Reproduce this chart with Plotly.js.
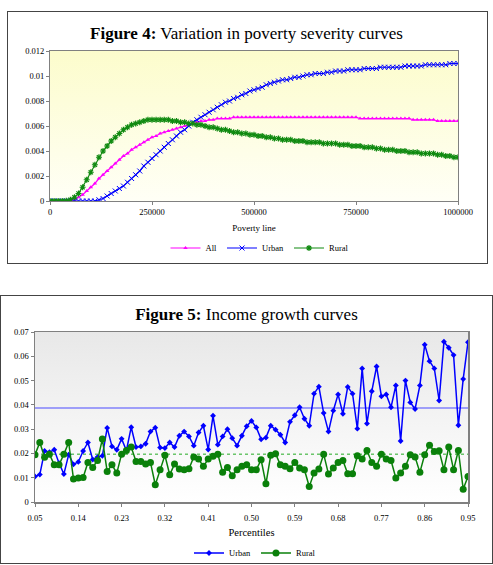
<!DOCTYPE html>
<html>
<head>
<meta charset="utf-8">
<script src="https://cdn.plot.ly/plotly-3.0.1.min.js"></script>
<style>
  html, body { margin:0; padding:0; background:#fff; width:493px; height:565px; overflow:hidden; }
  #f4, #f5 { position:absolute; left:0; width:493px; }
  #f4 { top:0; height:275px; }
  #f5 { top:275px; height:290px; }
  .frame { position:absolute; border:1px solid #444; pointer-events:none; }
</style>
</head>
<body>
<div id="f4"></div>
<div id="f5"></div>
<div class="frame" style="left:7px; top:11px; width:479px; height:251px;"></div>
<div class="frame" style="left:0px; top:295px; width:491px; height:267px;"></div>
<script>
// ---------- Figure 4 data ----------
const povertyLine = [0,10000,20000,30000,40000,50000,60000,70000,80000,90000,
  100000,110000,120000,130000,140000,150000,160000,170000,180000,190000,
  200000,210000,220000,230000,240000,250000,260000,270000,280000,290000,
  300000,310000,320000,330000,340000,350000,360000,370000,380000,390000,
  400000,410000,420000,430000,440000,450000,460000,470000,480000,490000,
  500000,510000,520000,530000,540000,550000,560000,570000,580000,590000,
  600000,610000,620000,630000,640000,650000,660000,670000,680000,690000,
  700000,710000,720000,730000,740000,750000,760000,770000,780000,790000,
  800000,810000,820000,830000,840000,850000,860000,870000,880000,890000,
  900000,910000,920000,930000,940000,950000,960000,970000,980000,990000,1000000];

const severityAll = [0,0,0,0,0,0.00003,0.0001,0.0003,0.0005,0.0008,
  0.0011,0.0014,0.0018,0.0021,0.0024,0.0027,0.0030,0.0033,0.0036,0.0038,
  0.0041,0.0043,0.0045,0.0047,0.0049,0.0051,0.0052,0.0054,0.0055,0.0056,
  0.0057,0.0058,0.0059,0.0060,0.0061,0.0062,0.0063,0.0064,0.0064,0.0065,
  0.0065,0.0066,0.0066,0.0066,0.0066,0.0067,0.0067,0.0067,0.0067,0.0067,
  0.0067,0.0067,0.0067,0.0067,0.0067,0.0067,0.0067,0.0067,0.0067,0.0067,
  0.0067,0.0067,0.0067,0.0067,0.0067,0.0067,0.0067,0.0067,0.0067,0.0067,
  0.0067,0.0067,0.0067,0.0067,0.0067,0.0067,0.0066,0.0066,0.0066,0.0066,
  0.0066,0.0066,0.0066,0.0066,0.0066,0.0066,0.0066,0.0066,0.0066,0.0065,
  0.0065,0.0065,0.0065,0.0065,0.0065,0.0064,0.0064,0.0064,0.0064,0.0064,0.0064];

const severityUrban = [0,0,0,0,0,0,0,0,0,0,
  0,0,0.0001,0.0002,0.0004,0.0006,0.0008,0.0010,0.0012,0.0015,
  0.0018,0.0021,0.0024,0.0028,0.0031,0.0034,0.0037,0.0040,0.0043,0.0046,
  0.0049,0.0052,0.0055,0.0057,0.0060,0.0063,0.0065,0.0067,0.0069,0.0071,
  0.0073,0.0075,0.0077,0.0079,0.0080,0.0082,0.0083,0.0085,0.0086,0.0088,
  0.0089,0.0090,0.0091,0.0093,0.0094,0.0095,0.0096,0.0097,0.0097,0.0098,
  0.0099,0.0099,0.0100,0.0101,0.0101,0.0102,0.0102,0.0102,0.0103,0.0103,
  0.0104,0.0104,0.0104,0.0105,0.0105,0.0105,0.0105,0.0106,0.0106,0.0106,
  0.0106,0.0107,0.0107,0.0107,0.0107,0.0107,0.0107,0.0108,0.0108,0.0108,
  0.0108,0.0108,0.0109,0.0109,0.0109,0.0109,0.0109,0.0109,0.0110,0.0110,0.0110];

const severityRural = [0,0,0,0,0.00002,0.0001,0.0003,0.0006,0.0011,0.0017,
  0.0023,0.0029,0.0035,0.0040,0.0044,0.0048,0.0051,0.0054,0.0057,0.0059,
  0.0061,0.0062,0.0063,0.0064,0.0065,0.0065,0.0065,0.0065,0.0065,0.0065,
  0.0064,0.0064,0.0063,0.0063,0.0062,0.0062,0.0061,0.0061,0.0060,0.0059,
  0.0059,0.0058,0.0057,0.0057,0.0056,0.0055,0.0055,0.0054,0.0054,0.0053,
  0.0053,0.0052,0.0052,0.0051,0.0051,0.0050,0.0050,0.0049,0.0049,0.0049,
  0.0048,0.0048,0.0048,0.0047,0.0047,0.0047,0.0047,0.0046,0.0046,0.0046,
  0.0046,0.0045,0.0045,0.0045,0.0044,0.0044,0.0044,0.0043,0.0043,0.0043,
  0.0042,0.0042,0.0041,0.0041,0.0041,0.0040,0.0040,0.0040,0.0039,0.0039,
  0.0039,0.0038,0.0038,0.0038,0.0038,0.0037,0.0037,0.0036,0.0036,0.0035,0.0035];

const fig4XTicks = [0, 250000, 500000, 750000, 1000000];
const fig4XTickText = ['0', '250000', '500000', '750000', '1000000'];

// ---------- Figure 5 data ----------
const percentiles = [0.05,0.06,0.07,0.08,0.09,0.10,0.11,0.12,0.13,0.14,
  0.15,0.16,0.17,0.18,0.19,0.20,0.21,0.22,0.23,0.24,
  0.25,0.26,0.27,0.28,0.29,0.30,0.31,0.32,0.33,0.34,
  0.35,0.36,0.37,0.38,0.39,0.40,0.41,0.42,0.43,0.44,
  0.45,0.46,0.47,0.48,0.49,0.50,0.51,0.52,0.53,0.54,
  0.55,0.56,0.57,0.58,0.59,0.60,0.61,0.62,0.63,0.64,
  0.65,0.66,0.67,0.68,0.69,0.70,0.71,0.72,0.73,0.74,
  0.75,0.76,0.77,0.78,0.79,0.80,0.81,0.82,0.83,0.84,
  0.85,0.86,0.87,0.88,0.89,0.90,0.91,0.92,0.93,0.94,0.95];

const growthUrban = [0.0105,0.0113,0.021,0.0205,0.0215,0.016,0.0115,0.0195,0.0155,0.0165,
  0.021,0.0245,0.0175,0.0185,0.019,0.0305,0.0229,0.0215,0.026,0.0212,
  0.0308,0.0226,0.0229,0.024,0.029,0.0306,0.0224,0.0222,0.0245,0.0226,
  0.0273,0.029,0.027,0.0232,0.0286,0.0314,0.0216,0.0355,0.0236,0.027,
  0.030,0.0263,0.0232,0.0273,0.0312,0.0334,0.0307,0.0258,0.0265,0.0314,
  0.0298,0.0277,0.0245,0.033,0.0357,0.039,0.0343,0.0314,0.0446,0.0475,
  0.0366,0.029,0.0376,0.0443,0.0363,0.0474,0.0446,0.0302,0.055,0.0323,
  0.0456,0.0558,0.0435,0.0443,0.039,0.048,0.0251,0.05,0.041,0.0383,
  0.048,0.0648,0.058,0.055,0.0418,0.066,0.0635,0.0605,0.0316,0.0506,0.0658];

const growthRural = [0.0195,0.0245,0.0184,0.0197,0.0153,0.0153,0.0197,0.0245,0.0095,0.0099,
  0.0101,0.0163,0.0142,0.0171,0.0259,0.0126,0.0153,0.0119,0.0197,0.0212,
  0.0226,0.0167,0.0167,0.0156,0.0163,0.0071,0.0133,0.0192,0.0112,0.0156,
  0.0136,0.0133,0.0137,0.0185,0.0177,0.0147,0.0177,0.0188,0.0197,0.0123,
  0.0142,0.0108,0.0133,0.0147,0.0153,0.0133,0.0133,0.0174,0.0075,0.0192,
  0.0199,0.0153,0.0147,0.0137,0.0163,0.014,0.0133,0.0064,0.0119,0.0136,
  0.0197,0.0115,0.014,0.0163,0.0171,0.0116,0.0116,0.019,0.0177,0.0212,
  0.0163,0.0147,0.0197,0.0177,0.0171,0.0099,0.0119,0.0147,0.0195,0.0185,
  0.0122,0.0195,0.0234,0.0208,0.0211,0.0133,0.0226,0.0133,0.0212,0.0053,0.0105];

const urbanMean = 0.0387;
const ruralMean = 0.0197;
const fig5XTicks = [0.05,0.14,0.23,0.32,0.41,0.50,0.59,0.68,0.77,0.86,0.95];
const fig5XTickText = ['0.05','0.14','0.23','0.32','0.41','0.50','0.59','0.68','0.77','0.86','0.95'];

// ---------- helpers ----------
const SERIF = '"Liberation Serif", "Times New Roman", serif';
function gradient(top, bottom) {
  const svg = "<svg xmlns='http://www.w3.org/2000/svg' width='10' height='10' preserveAspectRatio='none'>" +
    "<defs><linearGradient id='g' x1='0' y1='0' x2='0' y2='1'>" +
    "<stop offset='0' stop-color='" + top + "'/><stop offset='1' stop-color='" + bottom + "'/>" +
    "</linearGradient></defs><rect width='10' height='10' fill='url(#g)'/></svg>";
  return 'data:image/svg+xml;charset=utf-8,' + encodeURIComponent(svg);
}

// ---------- Figure 4 ----------
const f4Traces = [
  { x: povertyLine, y: severityAll, name: 'All', type: 'scatter', mode: 'lines+markers',
    line: { color: '#ff00ff', width: 1.2 },
    marker: { symbol: 'triangle-up', size: 4, color: '#ff00ff' } },
  { x: povertyLine, y: severityUrban, name: 'Urban', type: 'scatter', mode: 'lines+markers',
    line: { color: '#0000ff', width: 1.2 },
    marker: { symbol: 'x-thin', size: 5, color: '#0000ff', line: { color: '#0000ff', width: 1 } } },
  { x: povertyLine, y: severityRural, name: 'Rural', type: 'scatter', mode: 'lines+markers',
    line: { color: '#108a10', width: 1.2 },
    marker: { symbol: 'asterisk', size: 5, color: '#108a10', line: { color: '#108a10', width: 1.2 } } }
];
const f4Layout = {
  width: 493, height: 275,
  margin: { l: 50, r: 35, t: 51, b: 74, pad: 0 },
  paper_bgcolor: 'rgba(0,0,0,0)', plot_bgcolor: 'rgba(0,0,0,0)',
  font: { family: SERIF, color: '#000', size: 8 },
  title: { text: '<b>Figure 4:</b> Variation in poverty severity curves',
    font: { family: SERIF, size: 17, color: '#000' },
    x: 0.5, xref: 'container', xanchor: 'center', y: 1 - 33/275, yref: 'container', yanchor: 'middle' },
  xaxis: { range: [0, 1000000], tickvals: fig4XTicks, ticktext: fig4XTickText,
    showgrid: false, zeroline: false, showline: true, mirror: true, linecolor: '#808080', linewidth: 1,
    ticks: 'outside', ticklen: 3, tickcolor: '#808080', tickfont: { size: 8.5 },
    title: { text: 'Poverty line', font: { size: 9 }, standoff: 9 } },
  yaxis: { range: [0, 0.012], dtick: 0.002, tick0: 0,
    showgrid: false, zeroline: false, showline: true, mirror: true, linecolor: '#808080', linewidth: 1,
    ticks: 'outside', ticklen: 3, tickcolor: '#808080', tickfont: { size: 8.5 } },
  showlegend: true,
  legend: { orientation: 'h', xref: 'container', x: 260/493, xanchor: 'center',
    yref: 'container', y: 1 - 248/275, yanchor: 'middle',
    font: { size: 8.5 }, itemwidth: 30, tracegroupgap: 0, bgcolor: 'rgba(0,0,0,0)' },
  images: [{ source: gradient('#fcfccc', '#fffff6'), xref: 'paper', yref: 'paper',
    x: 0, y: 1, sizex: 1, sizey: 1, sizing: 'stretch', xanchor: 'left', yanchor: 'top', layer: 'below' }]
};
Plotly.newPlot('f4', f4Traces, f4Layout, { staticPlot: true, displayModeBar: false });

// ---------- Figure 5 ----------
const f5Traces = [
  { x: [percentiles[0], percentiles[percentiles.length-1]], y: [urbanMean, urbanMean], type: 'scatter', mode: 'lines',
    line: { color: '#4a4aff', width: 1 }, showlegend: false, hoverinfo: 'skip' },
  { x: [percentiles[0], percentiles[percentiles.length-1]], y: [ruralMean, ruralMean], type: 'scatter', mode: 'lines',
    line: { color: '#22aa22', width: 1, dash: 'dot' }, showlegend: false, hoverinfo: 'skip' },
  { x: percentiles, y: growthUrban, name: 'Urban', type: 'scatter', mode: 'lines+markers',
    line: { color: '#0000ff', width: 1.5 },
    marker: { symbol: 'diamond', size: 4.5, color: '#0000ff' } },
  { x: percentiles, y: growthRural, name: 'Rural', type: 'scatter', mode: 'lines+markers',
    line: { color: '#0a800a', width: 1.5 },
    marker: { symbol: 'circle', size: 7, color: '#0a800a' } }
];
const f5Layout = {
  width: 493, height: 290,
  margin: { l: 35, r: 25, t: 57, b: 63, pad: 0 },
  paper_bgcolor: 'rgba(0,0,0,0)', plot_bgcolor: 'rgba(0,0,0,0)',
  font: { family: SERIF, color: '#000', size: 8 },
  title: { text: '<b>Figure 5:</b> Income growth curves',
    font: { family: SERIF, size: 17, color: '#000' },
    x: 0.5, xref: 'container', xanchor: 'center', y: 1 - 39/290, yref: 'container', yanchor: 'middle' },
  xaxis: { range: [0.05, 0.95], tickvals: fig5XTicks, ticktext: fig5XTickText,
    showgrid: false, zeroline: false, showline: true, mirror: true, linecolor: '#808080', linewidth: 1.5,
    ticks: 'outside', ticklen: 3, tickcolor: '#808080', tickfont: { size: 8.5 }, ticklabelstandoff: 4,
    title: { text: 'Percentiles', font: { size: 10.5 }, standoff: 11 } },
  yaxis: { range: [0, 0.07], dtick: 0.01, tick0: 0,
    showgrid: false, zeroline: false, showline: true, mirror: true, linecolor: '#808080', linewidth: 1.5,
    ticks: 'outside', ticklen: 3, tickcolor: '#808080', tickfont: { size: 8.5 } },
  showlegend: true,
  legend: { orientation: 'h', xref: 'container', x: 255/493, xanchor: 'center',
    yref: 'container', y: 1 - 278/290, yanchor: 'middle',
    font: { size: 8.5 }, itemwidth: 30, bgcolor: 'rgba(0,0,0,0)' },
  images: [{ source: gradient('#e8e8e8', '#ffffff'), xref: 'paper', yref: 'paper',
    x: 0, y: 1, sizex: 1, sizey: 1, sizing: 'stretch', xanchor: 'left', yanchor: 'top', layer: 'below' }]
};
Plotly.newPlot('f5', f5Traces, f5Layout, { staticPlot: true, displayModeBar: false });
</script>
</body>
</html>
